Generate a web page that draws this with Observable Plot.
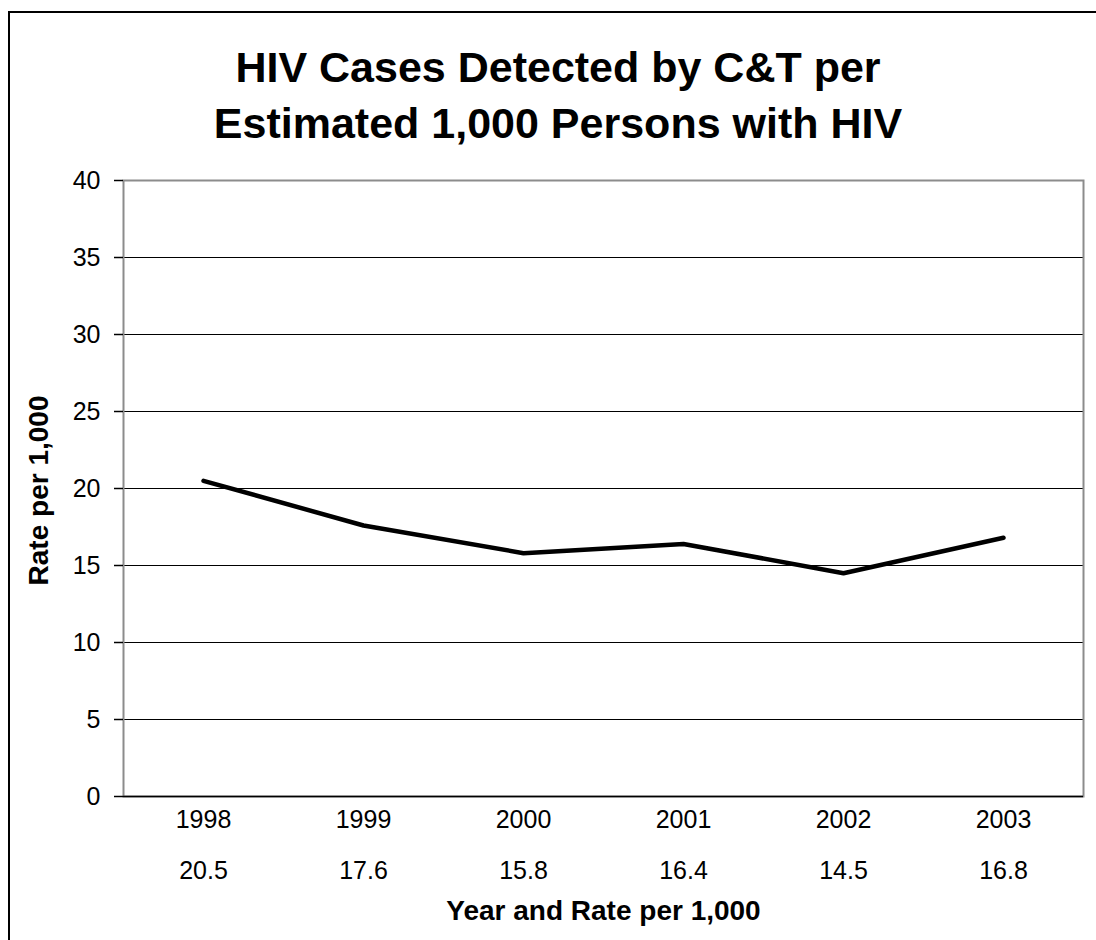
<!DOCTYPE html>
<html>
<head>
<meta charset="utf-8">
<script src="https://cdn.jsdelivr.net/npm/d3@7"></script>
<script src="https://cdn.jsdelivr.net/npm/@observablehq/plot@0.6"></script>
<style>
  html, body { margin: 0; padding: 0; background: #fff; }
  body { width: 1096px; height: 940px; position: relative; overflow: hidden; font-family: "Liberation Sans", Arial, sans-serif; }
  #frameBorder { position: absolute; left: 8px; top: 11px; width: 2000px; height: 2000px; border-left: 2px solid #000; border-top: 2px solid #000; box-sizing: border-box; }
  #title { position: relative; width: 1096px; height: 150px; box-sizing: border-box; padding-top: 39px; padding-left: 20px; text-align: center; font-weight: bold; font-size: 43px; line-height: 56px; color: #000; }
  #chart { position: relative; }
</style>
</head>
<body>
<div id="frameBorder"></div>
<div id="title">HIV Cases Detected by C&amp;T per<br>Estimated 1,000 Persons with HIV</div>
<div id="chart"></div>
<script>
const years = ["1998", "1999", "2000", "2001", "2002", "2003"];
const rates = [20.5, 17.6, 15.8, 16.4, 14.5, 16.8];
const yTicks = [0, 5, 10, 15, 20, 25, 30, 35, 40];
const gridValues = [5, 10, 15, 20, 25, 30, 35];
const xTitle = "Year and Rate per 1,000";
const yTitle = "Rate per 1,000";

const data = years.map((y, i) => ({year: y, rate: rates[i]}));
const rateByYear = new Map(data.map(d => [d.year, d.rate]));

const chart = Plot.plot({
  width: 1096,
  height: 790,
  marginTop: 30,
  marginBottom: 144,
  marginLeft: 123,
  marginRight: 13,
  style: {fontFamily: '"Liberation Sans", Arial, sans-serif', color: "#000", background: "transparent"},
  x: {type: "point", domain: years, padding: 0.5, align: 0.5},
  y: {domain: [0, 40]},
  marks: [
    Plot.ruleY(gridValues, {stroke: "#000", strokeWidth: 1}),
    Plot.frame({stroke: "#8c8c8c", strokeWidth: 2}),
    Plot.ruleY([0], {stroke: "#000", strokeWidth: 1.5}),
    Plot.ruleX([0], {x: () => null, frameAnchor: "left", stroke: "#000", strokeWidth: 1.5}),
    Plot.axisY({ticks: yTicks, tickSize: 9, tickPadding: 14, fontSize: 25, label: null, stroke: "#000", strokeWidth: 1.5}),
    Plot.axisX({tickSize: 0, tickPadding: 14, fontSize: 25, label: null}),
    Plot.axisX({tickSize: 0, tickPadding: 65, fontSize: 25, label: null, tickFormat: d => rateByYear.get(d).toFixed(1)}),
    Plot.line(data, {x: "year", y: "rate", stroke: "#000", strokeWidth: 4.5}),
    Plot.text([xTitle], {frameAnchor: "bottom", dy: 123, textAnchor: "middle", text: d => d, fontSize: 28, fontWeight: "bold"}),
    Plot.text([yTitle], {frameAnchor: "left", dx: -84, dy: 2, textAnchor: "middle", rotate: -90, text: d => d, fontSize: 28, fontWeight: "bold"})
  ]
});
document.getElementById("chart").appendChild(chart);
</script>
</body>
</html>
